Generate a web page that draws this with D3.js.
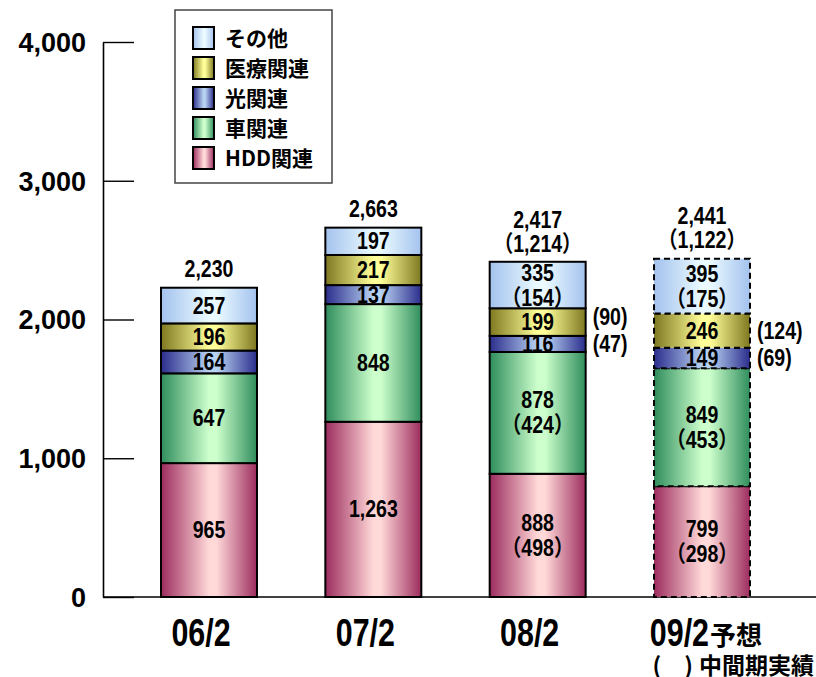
<!DOCTYPE html>
<html><head><meta charset="utf-8">
<script src="https://cdn.jsdelivr.net/npm/d3@7"></script>
<style>body{margin:0;background:#fff} svg{display:block}</style>
</head><body><svg id="c" width="816" height="677"></svg>
<script>
// ---- data ----
const categories = ["06/2", "07/2", "08/2", "09/2"];
const categorySuffix = ["", "", "", "予想"];
const forecast = [false, false, false, true];
const seriesKeys = ["hdd", "car", "optical", "medical", "other"];
const seriesNames = ["HDD関連", "車関連", "光関連", "医療関連", "その他"];
const hdd = [965, 1263, 888, 799];
const car = [647, 848, 878, 849];
const optical = [164, 137, 116, 149];
const medical = [196, 217, 199, 246];
const other = [257, 197, 335, 395];
const hddInterim = [null, null, 498, 298];
const carInterim = [null, null, 424, 453];
const opticalInterim = [null, null, 47, 69];
const medicalInterim = [null, null, 90, 124];
const otherInterim = [null, null, 154, 175];
const totals = [2230, 2663, 2417, 2441];
const totalInterim = [null, null, 1214, 1122];
const yTicks = [0, 1000, 2000, 3000, 4000];
const noteParen = "(\u3000)";
const noteText = "中間期実績";

// ---- styles ----
const colors = {
  hdd:     { dark: "#9c2c5e", light: "#ffd8d8" },
  car:     { dark: "#2f8d5c", light: "#ccffcc" },
  optical: { dark: "#2b2d8c", light: "#b8d2f2" },
  medical: { dark: "#7e7820", light: "#ffff99" },
  other:   { dark: "#a4c2ee", light: "#eafaff" }
};
const values = { hdd, car, optical, medical, other };
const interims = { hdd: hddInterim, car: carInterim, optical: opticalInterim, medical: medicalInterim, other: otherInterim };
const numFont = "'Liberation Sans', 'Noto Sans CJK JP', Arial, sans-serif";
const cjkFont = "'Noto Sans CJK JP', sans-serif";
const fmt = d3.format(",");

const svg = d3.select("#c");
const y = d3.scaleLinear().domain([0, 4000]).range([597, 42]);
const x = d3.scaleBand().domain(categories).range([161, 750]).paddingInner(0.416).paddingOuter(0);
const bw = x.bandwidth();

// gradients
const defs = svg.append("defs");
seriesKeys.forEach(k => {
  const g = defs.append("linearGradient").attr("id", "g-" + k)
    .attr("x1", "0%").attr("x2", "100%").attr("y1", "0%").attr("y2", "0%");
  g.append("stop").attr("offset", "0%").attr("stop-color", colors[k].dark);
  g.append("stop").attr("offset", "50%").attr("stop-color", colors[k].light);
  g.append("stop").attr("offset", "58%").attr("stop-color", colors[k].light);
  g.append("stop").attr("offset", "100%").attr("stop-color", colors[k].dark);
});

// y axis
const yAxis = d3.axisLeft(y).tickValues(yTicks).tickFormat(fmt)
  .tickSizeInner(-31).tickSizeOuter(0).tickPadding(17);
const ga = svg.append("g").attr("transform", "translate(103,0)").call(yAxis);
ga.select(".domain").attr("stroke", "#000").attr("stroke-width", 1.6);
ga.selectAll(".tick line").attr("stroke", "#000").attr("stroke-width", 1.4);
ga.selectAll(".tick text").attr("font-family", numFont).attr("font-weight", "bold")
  .attr("font-size", 27).attr("fill", "#000").attr("dy", "0.35em");

// baseline
svg.append("line").attr("x1", 103).attr("x2", 816).attr("y1", y(0)).attr("y2", y(0))
  .attr("stroke", "#000").attr("stroke-width", 1.6);

// stacked bars
const rows = categories.map((c, i) => {
  const r = { cat: c, i };
  seriesKeys.forEach(k => r[k] = values[k][i]);
  return r;
});
const stacked = d3.stack().keys(seriesKeys)(rows);

stacked.forEach(layer => {
  const k = layer.key;
  svg.append("g").selectAll("rect").data(layer).join("rect")
    .attr("x", d => x(d.data.cat))
    .attr("y", d => y(d[1]))
    .attr("width", bw)
    .attr("height", d => y(d[0]) - y(d[1]))
    .attr("fill", "url(#g-" + k + ")")
    .attr("stroke", "#000")
    .attr("stroke-width", 2)
    .attr("stroke-dasharray", d => forecast[d.data.i] ? "6,4" : null);
});

// labels
const labelG = svg.append("g").attr("font-family", numFont).attr("font-weight", "bold")
  .attr("font-size", 23).attr("fill", "#000");
function addLabel(px, py, txt, anchor) {
  labelG.append("text")
    .attr("transform", `translate(${px},${py}) scale(0.85,1)`)
    .attr("text-anchor", anchor || "middle").text(txt);
}
const sideLast = {};
stacked.forEach(layer => {
  const k = layer.key;
  layer.forEach(d => {
    const i = d.data.i;
    const cx = x(d.data.cat) + bw / 2;
    const cy = (y(d[0]) + y(d[1])) / 2;
    const h = y(d[0]) - y(d[1]);
    const v = values[k][i];
    const iv = interims[k][i];
    if (iv != null && h >= 40) {
      addLabel(cx, cy - 12.5 + 8, fmt(v));
      addLabel(cx, cy + 12.5 + 8, "（" + fmt(iv) + "）");
    } else {
      addLabel(cx, cy + 8, fmt(v));
      if (iv != null) {
        let sy = cy + 8;
        if (sideLast[i] != null && sideLast[i] - sy < 27) sy = sideLast[i] - 27;
        sideLast[i] = sy;
        addLabel(x(d.data.cat) + bw + 7, sy, "(" + fmt(iv) + ")", "start");
      }
    }
  });
});

// totals
categories.forEach((c, i) => {
  const cx = x(c) + bw / 2;
  const top = y(totals[i]);
  if (totalInterim[i] != null) {
    addLabel(cx, top - 34, fmt(totals[i]));
    addLabel(cx, top - 10, "（" + fmt(totalInterim[i]) + "）");
  } else {
    addLabel(cx, top - 11, fmt(totals[i]));
  }
});

// category labels
categories.forEach((c, i) => {
  const cx = x(c) + bw / 2;
  const suf = categorySuffix[i];
  const ax = suf ? cx + 7 : cx - 8;
  svg.append("text")
    .attr("transform", `translate(${ax},646) scale(0.8,1)`)
    .attr("text-anchor", suf ? "end" : "middle")
    .attr("font-family", numFont).attr("font-weight", "bold").attr("font-size", 38)
    .attr("fill", "#000").text(c);
  if (suf) {
    svg.append("text").attr("x", ax + 1).attr("y", 645).attr("text-anchor", "start")
      .attr("font-family", cjkFont).attr("font-weight", "bold").attr("font-size", 26)
      .attr("fill", "#000").text(suf);
  }
});

// note
const note = svg.append("text").attr("x", 814).attr("y", 674).attr("text-anchor", "end")
  .attr("font-family", cjkFont).attr("font-weight", "bold").attr("font-size", 23).attr("fill", "#000");
note.append("tspan").text(noteParen);
note.append("tspan").attr("dx", 6).text(noteText);

// legend
const lg = svg.append("g");
lg.append("rect").attr("x", 175).attr("y", 10).attr("width", 157).attr("height", 173)
  .attr("fill", "#fff").attr("stroke", "#444").attr("stroke-width", 1.5);
const legendOrder = seriesKeys.slice().reverse();
legendOrder.forEach((k, j) => {
  const cy = 38 + j * 30;
  lg.append("rect").attr("x", 193).attr("y", cy - 11).attr("width", 21).attr("height", 22)
    .attr("fill", "url(#g-" + k + ")").attr("stroke", "#000").attr("stroke-width", 2);
  lg.append("text").attr("x", 225).attr("y", cy + 8)
    .attr("font-family", cjkFont).attr("font-weight", "bold").attr("font-size", 21)
    .attr("fill", "#000").text(seriesNames[seriesKeys.indexOf(k)]);
});
</script></body></html>
